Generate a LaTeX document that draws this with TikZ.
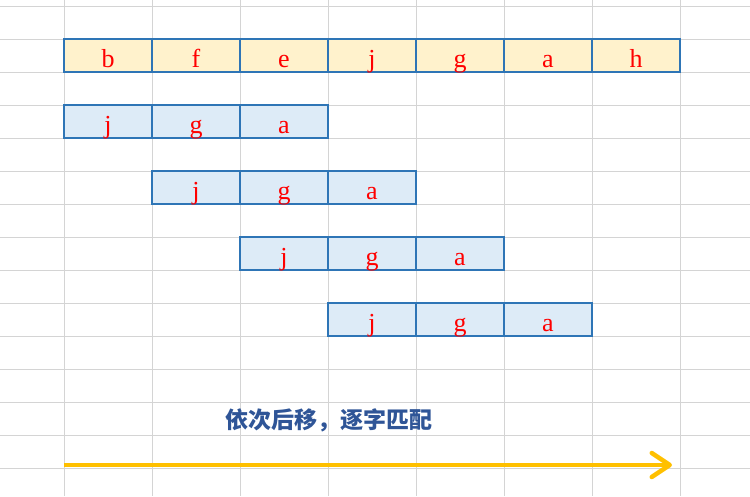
\documentclass[tikz,border=0pt]{standalone}
\usepackage{fontspec}
\setmainfont{Liberation Serif}
\newfontfamily\cjk{Noto Sans CJK SC}
\usetikzlibrary{arrows.meta}
\definecolor{gridgray}{HTML}{D4D4D4}
\definecolor{boxblue}{HTML}{2E75B6}
\definecolor{topfill}{HTML}{FFF2CC}
\definecolor{rowfill}{HTML}{DDEBF7}
\definecolor{txtblue}{HTML}{2F5597}
\definecolor{arrowgold}{HTML}{FFC000}
\tikzset{
  cellbase/.style={draw=boxblue, line width=2pt, rectangle, inner sep=0pt,
    minimum width=88pt, minimum height=33pt, text height=28pt, text depth=5pt,
    text=red, font=\fontsize{26pt}{28pt}\selectfont},
  topcell/.style={cellbase, fill=topfill},
  rowcell/.style={cellbase, fill=rowfill},
  caption/.style={text=txtblue, font=\cjk\bfseries\fontsize{23pt}{26pt}\selectfont},
  goldarrow/.style={draw=arrowgold, line width=4.5pt,
    -{Straight Barb[length=18pt, width=24pt, line width=4.5pt, round]}}
}
\begin{document}
\begin{tikzpicture}[x=1pt, y=-1pt]
\useasboundingbox (0,0) rectangle (750,496);
% grid
\foreach \gx in {64,152,...,680} \draw[gridgray, line width=1pt] (\gx,0) -- (\gx,496);
\foreach \gy in {6,39,...,490} \draw[gridgray, line width=1pt] (0,\gy) -- (750,\gy);
% top row
\foreach \ch [count=\i from 0] in {b,f,e,j,g,a,h}
  \node[topcell] (t\i) at ({108+88*\i},55.5) {\ch};
% shifted rows
\foreach \r in {0,1,2,3} {
  \foreach \ch [count=\i from 0] in {j,g,a}
    \node[rowcell] (r\r c\i) at ({108+88*(\r+\i)},{121.5+66*\r}) {\ch};
}
% caption
\node[caption] (cap) at (329,420) {依次后移，逐字匹配};
% arrow
\coordinate (as) at (64,465);
\coordinate (ae) at (672,465);
\draw[goldarrow] (as) -- (ae);
\end{tikzpicture}
\end{document}
